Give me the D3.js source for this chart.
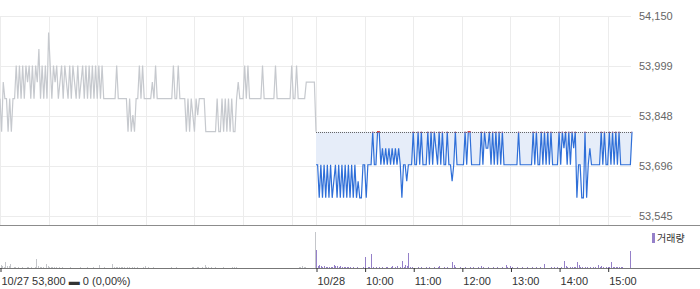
<!DOCTYPE html>
<html>
<head>
<meta charset="utf-8">
<script src="https://cdn.jsdelivr.net/npm/d3@7"></script>
<style>
  html, body { margin: 0; padding: 0; background: #fff; }
  #chart { width: 700px; height: 289px; }
  text { font-family: "Liberation Sans", Arial, sans-serif; }
</style>
</head>
<body>
<div id="chart"></div>
<script>
// previous close (10/27)
const prevClose = 53800;
const stepMinutes = 2;      // one sample every 2 minutes, 09:00 -> 15:30
const sessionMinutes = 390;

// 10/27 prices
const day1Prices = [
  53900, 53800, 53950, 53900, 53900, 53800, 53900, 53800, 53900, 53900,
  54000, 53900, 54000, 53900, 54000, 53900, 54000, 53950, 54000, 53900,
  54000, 53900, 54000, 53950, 54050, 53900, 54000, 53900, 54000, 53900,
  54100, 54000, 53900, 54000, 53950, 54000, 53900, 53950, 54000, 53900,
  54000, 53950, 53900, 54000, 53900, 54000, 53950, 53900, 54000, 53900,
  53950, 54000, 53900, 54000, 53900, 54000, 53900, 54000, 53900, 54000,
  53900, 54000, 53900, 54000, 53900, 53900, 53900, 53900, 53900, 53900,
  53900, 53900, 54000, 53900, 53900, 53900, 53900, 53900, 53900, 53800,
  53900, 53800, 53850, 53800, 53900, 53900, 54000, 53900, 54000, 53900,
  53900, 53900, 53900, 53900, 53950, 53900, 54000, 53900, 53900, 53900,
  53900, 53900, 53900, 53900, 53900, 53900, 53900, 54000, 53900, 53900,
  54000, 53900, 53900, 53900, 53900, 53800, 53900, 53800, 53900, 53850,
  53800, 53900, 53850, 53900, 53900, 53900, 53900, 53800, 53800, 53800,
  53800, 53800, 53800, 53800, 53900, 53800, 53800, 53900, 53800, 53900,
  53800, 53900, 53800, 53900, 53800, 53800, 53900, 53950, 53900, 53900,
  53900, 54000, 53900, 54000, 53900, 53900, 53900, 53900, 53900, 53900,
  53900, 53900, 54000, 53900, 53900, 53900, 53900, 53900, 53900, 53900,
  54000, 53900, 53900, 53900, 53900, 53900, 53900, 53900, 53900, 53900,
  54000, 53900, 53900, 54000, 53900, 53900, 53900, 53900, 53900, 53950,
  53950, 53950, 53950, 53950, 53950, 53800
];

// 10/28 prices
const day2Prices = [
  53700, 53700, 53600, 53700, 53600, 53700, 53600, 53700, 53600, 53700,
  53600, 53650, 53700, 53600, 53700, 53600, 53700, 53600, 53700, 53600,
  53700, 53600, 53700, 53600, 53700, 53600, 53650, 53600, 53600, 53700,
  53700, 53600, 53700, 53700, 53700, 53800, 53700, 53700, 53800, 53800,
  53700, 53750, 53700, 53750, 53700, 53750, 53700, 53750, 53700, 53750,
  53700, 53750, 53700, 53600, 53700, 53700, 53650, 53700, 53700, 53700,
  53800, 53700, 53700, 53800, 53700, 53800, 53700, 53700, 53700, 53800,
  53700, 53800, 53700, 53800, 53750, 53700, 53800, 53700, 53800, 53700,
  53700, 53800, 53700, 53700, 53650, 53700, 53800, 53700, 53700, 53700,
  53700, 53700, 53800, 53700, 53800, 53800, 53700, 53700, 53700, 53700,
  53700, 53700, 53800, 53700, 53800, 53750, 53750, 53800, 53700, 53800,
  53700, 53800, 53700, 53800, 53700, 53800, 53700, 53700, 53700, 53700,
  53700, 53700, 53700, 53700, 53700, 53800, 53700, 53700, 53700, 53700,
  53700, 53700, 53700, 53700, 53800, 53700, 53800, 53700, 53700, 53800,
  53700, 53800, 53700, 53800, 53700, 53800, 53700, 53700, 53700, 53700,
  53800, 53700, 53800, 53750, 53800, 53700, 53800, 53700, 53800, 53750,
  53800, 53600, 53700, 53700, 53600, 53600, 53800, 53600, 53700, 53750,
  53700, 53700, 53700, 53700, 53700, 53700, 53800, 53700, 53800, 53700,
  53700, 53800, 53700, 53800, 53700, 53800, 53700, 53800, 53700, 53700,
  53700, 53700, 53700, 53700, 53700, 53800
];

// volumes (relative units)
const day1Volumes = [
  5.5, 3, 2, 1.5, 6, 2, 2.5, 4, 0.5, 1,
  1.5, 0.5, 1, 0.5, 1, 0.5, 0, 1.5, 1, 0.5,
  1, 0.5, 1, 9.5, 2, 1, 1, 1.5, 0.5, 4.5,
  2, 1.5, 1, 1, 1.5, 1, 0.5, 1, 0, 1,
  0.5, 0, 0.5, 0, 1, 0, 0.5, 0, 0.5, 0,
  1, 0, 0, 0.5, 1.5, 0, 0.5, 0, 1, 0,
  0.5, 0, 3, 0.5, 0, 1, 0, 0.5, 0, 0.5,
  4.5, 1.5, 1, 1.5, 1, 1, 1, 1, 0.5, 1,
  1, 0.5, 1, 1, 0.5, 1, 0.5, 0, 0.5, 1,
  2, 0.5, 1, 0, 0.5, 1, 0.5, 0, 0.5, 0,
  0.5, 0, 0, 0, 0.5, 0, 1, 0.5, 0.5, 1,
  0, 0.5, 0, 0, 0.5, 0, 0.5, 0, 0.5, 1,
  1, 0.5, 1, 1, 0.5, 1, 0.5, 3, 1, 1,
  0.5, 1, 0.5, 1, 0.5, 0, 0.5, 0, 1, 0.5,
  0, 0.5, 0, 0.5, 1, 1, 1, 0.5, 0, 0.5,
  0, 0, 0.5, 0, 0, 0, 0.5, 0, 0, 0,
  0, 0.5, 0, 0, 0, 0.5, 0, 0, 0, 0.5,
  0, 0, 0, 0, 0.5, 0, 0.5, 0, 0, 0.5,
  0, 0.5, 0.5, 0, 0.5, 1, 1, 2.5, 1.5, 1,
  0, 0, 0, 0, 0, 36
];

const day2Volumes = [
  18, 2, 3, 2, 1, 2, 1, 1.5, 1, 1.5,
  1, 3, 2, 2, 1.5, 2.5, 1.5, 1, 1.5, 1,
  1, 1.5, 0, 1, 0, 1, 0, 0.5, 0, 1,
  11, 0, 1, 1, 14, 1, 0.5, 1, 0, 1,
  0, 1, 0, 1, 1, 0, 1.5, 2, 0, 1,
  2, 0, 1, 7, 1, 3, 2, 15, 1, 1,
  0, 0.5, 0, 1, 0, 1, 0, 0, 1, 0,
  1, 0, 0, 1, 0, 1, 2.5, 0, 0, 1,
  0, 1, 0, 0, 6, 3, 1, 0, 0, 1,
  0, 0, 1, 0, 0, 1, 0, 1, 0, 0,
  1, 0, 2.5, 1, 0, 0, 1, 0, 0, 1,
  0, 0, 1, 0, 0, 1, 0, 3.5, 1, 0,
  2.5, 1, 0, 0, 1, 0, 0, 1, 0, 0,
  1, 0, 0, 1, 0, 0, 1, 0, 1, 0,
  0, 4.5, 0, 0, 0, 1, 0, 1, 0, 1,
  0, 1.5, 0, 7.5, 2, 1, 0, 1, 1.5, 1,
  1, 6.5, 3, 1.5, 1, 0, 1, 1.5, 0, 1,
  0, 1.5, 1, 0, 3.5, 1, 2.5, 1, 0, 1,
  1, 1, 6.5, 1.5, 1, 1.5, 1, 1.5, 1, 1,
  0, 0, 0, 0, 17.5, 0
];

const priceTicks = [54150, 53998.75, 53847.5, 53696.25, 53545];
const gridMinutes = [0, 60, 120, 180, 240, 300, 360, 390, 450, 510, 570, 630, 690, 750];
const axisMinutes = [0, 390, 450, 510, 570, 630, 690, 750];
const axisLabels = ['10/27 53,800 \u25AC 0 (0,00%)', '10/28', '10:00', '11:00', '12:00', '13:00', '14:00', '15:00'];
const fillFloor = 53700;

// build series with a combined minute index (day 2 starts at 390)
const day1 = day1Prices.map((p, i) => ({ t: i * stepMinutes, price: p, vol: day1Volumes[i] }));
const day2 = day2Prices.map((p, i) => ({ t: sessionMinutes + i * stepMinutes, price: p, vol: day2Volumes[i] }));

const width = 700, height = 289;
const plotRight = 632;

const svg = d3.select('#chart').append('svg')
  .attr('width', width)
  .attr('height', height);

const x = d3.scaleLinear().domain([0, sessionMinutes * 2]).range([0, plotRight]);
const y = d3.scaleLinear().domain([53545, 54150]).range([216, 16]);
const yVol = d3.scaleLinear().domain([0, 42]).range([268, 226]);

const px = v => Math.round(v) + 0.5;

// grid
const grid = svg.append('g').attr('shape-rendering', 'crispEdges');
grid.selectAll('line.h')
  .data(priceTicks)
  .enter().append('line')
  .attr('x1', 0).attr('x2', plotRight - 1)
  .attr('y1', d => px(y(d))).attr('y2', d => px(y(d)))
  .attr('stroke', '#ececec');
grid.selectAll('line.v')
  .data(gridMinutes)
  .enter().append('line')
  .attr('x1', d => px(x(d))).attr('x2', d => px(x(d)))
  .attr('y1', px(y(54150))).attr('y2', 225)
  .attr('stroke', '#ececec');

// shaded band between previous close and day 2 line
const area = d3.area()
  .x(d => x(d.t))
  .y0(y(prevClose))
  .y1(d => y(Math.max(d.price, fillFloor)));
svg.append('path')
  .datum(day2)
  .attr('d', area)
  .attr('fill', '#e6edf9');

// previous close dotted line
svg.append('line')
  .attr('x1', x(sessionMinutes)).attr('x2', plotRight)
  .attr('y1', px(y(prevClose))).attr('y2', px(y(prevClose)))
  .attr('stroke', '#666')
  .attr('stroke-dasharray', '1,1');

const line = d3.line()
  .x(d => x(d.t))
  .y(d => y(d.price));

svg.append('path')
  .datum(day1)
  .attr('d', line)
  .attr('fill', 'none')
  .attr('stroke', '#c6c9ce')
  .attr('stroke-width', 1.2);

svg.append('path')
  .datum(day2)
  .attr('d', line)
  .attr('fill', 'none')
  .attr('stroke', '#2f6fd8')
  .attr('stroke-width', 1.2);

// touches of the previous close drawn red
svg.append('clipPath').attr('id', 'upclip')
  .append('rect')
  .attr('x', x(sessionMinutes)).attr('y', 0)
  .attr('width', plotRight - x(sessionMinutes))
  .attr('height', y(prevClose) + 0.8);
svg.append('path')
  .datum(day2)
  .attr('d', line)
  .attr('clip-path', 'url(#upclip)')
  .attr('fill', 'none')
  .attr('stroke', '#e2483f')
  .attr('stroke-width', 1.2);

// volume bars
const bars = svg.append('g').attr('shape-rendering', 'crispEdges');
bars.selectAll('rect.d1')
  .data(day1.filter(d => d.vol > 0))
  .enter().append('rect')
  .attr('x', d => Math.round(x(d.t)) - 1)
  .attr('width', 1)
  .attr('y', d => yVol(d.vol))
  .attr('height', d => yVol(0) - yVol(d.vol))
  .attr('fill', '#c4c6ca');
bars.selectAll('rect.d2')
  .data(day2.filter(d => d.vol > 0))
  .enter().append('rect')
  .attr('x', d => Math.round(x(d.t)))
  .attr('width', 1)
  .attr('y', d => yVol(d.vol))
  .attr('height', d => yVol(0) - yVol(d.vol))
  .attr('fill', '#9580c9');

// panel separators
svg.append('line')
  .attr('x1', 0).attr('x2', width)
  .attr('y1', 225.5).attr('y2', 225.5)
  .attr('stroke', '#8c8c8c');
svg.append('line')
  .attr('x1', 0).attr('x2', width)
  .attr('y1', 268.5).attr('y2', 268.5)
  .attr('stroke', '#777');

// price axis (right)
const yAxis = svg.append('g')
  .attr('transform', 'translate(639,0)')
  .call(d3.axisRight(y)
    .tickValues(priceTicks)
    .tickSize(0)
    .tickPadding(0)
    .tickFormat(d3.format(',.0f')));
yAxis.select('.domain').remove();
yAxis.selectAll('text')
  .attr('fill', '#666')
  .style('font-size', '11px');

// time axis (bottom)
const xAxis = svg.append('g')
  .attr('transform', 'translate(0,268)')
  .call(d3.axisBottom(x)
    .tickValues(axisMinutes)
    .tickSize(4)
    .tickFormat((d, i) => axisLabels[i]));
xAxis.select('.domain').remove();
xAxis.selectAll('.tick line')
  .attr('stroke', '#333')
  .attr('transform', 'translate(0.5,0)');
xAxis.selectAll('text')
  .attr('text-anchor', 'start')
  .attr('x', 1)
  .attr('y', 17)
  .attr('dy', 0)
  .attr('fill', '#333')
  .style('font-size', '11px');

// volume legend
svg.append('rect')
  .attr('x', 652).attr('y', 233)
  .attr('width', 3).attr('height', 10)
  .attr('fill', '#9580c9');
svg.append('text')
  .attr('x', 657).attr('y', 242)
  .attr('fill', '#333')
  .style('font-family', '"Noto Sans CJK KR", sans-serif')
  .style('font-size', '10px')
  .text('거래량');
</script>
</body>
</html>
